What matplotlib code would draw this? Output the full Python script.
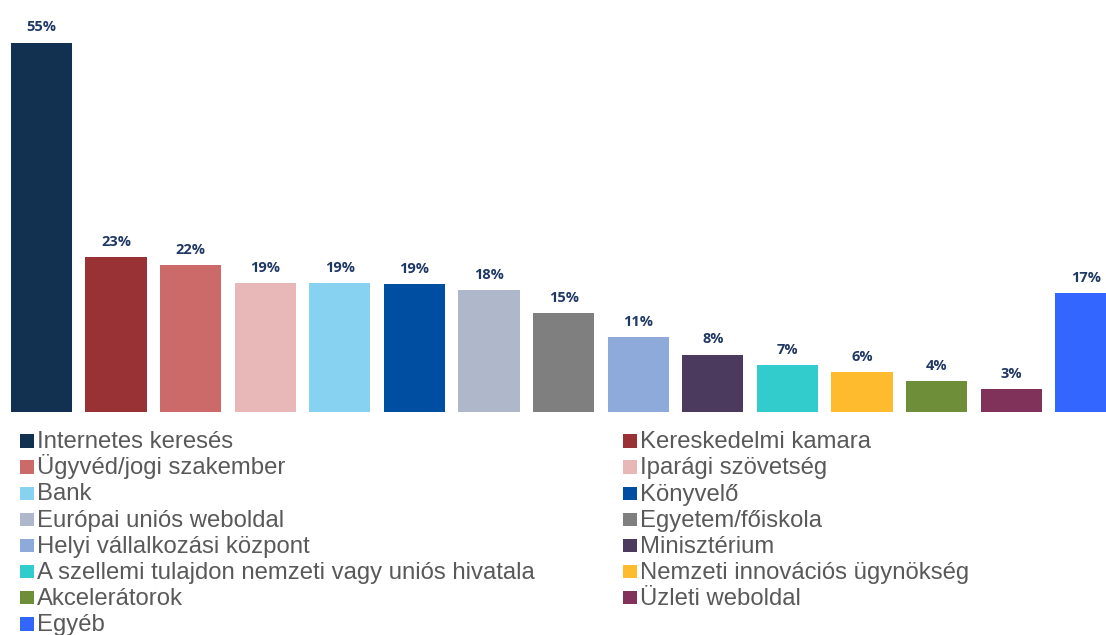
import matplotlib.pyplot as plt
from matplotlib.patches import Rectangle

# data
categories = [
    "Internetes keresés", "Kereskedelmi kamara", "Ügyvéd/jogi szakember",
    "Iparági szövetség", "Bank", "Könyvelő", "Európai uniós weboldal",
    "Egyetem/főiskola", "Helyi vállalkozási központ", "Minisztérium",
    "A szellemi tulajdon nemzeti vagy uniós hivatala",
    "Nemzeti innovációs ügynökség", "Akcelerátorok", "Üzleti weboldal", "Egyéb",
]
values = [55, 23.1, 21.9, 19.2, 19.2, 19.1, 18.2, 14.8, 11.2, 8.6, 7.0, 6.0, 4.6, 3.4, 17.7]
labels = ["55%", "23%", "22%", "19%", "19%", "19%", "18%", "15%", "11%",
          "8%", "7%", "6%", "4%", "3%", "17%"]
colors = ["#12304F", "#983234", "#CC6A6A", "#E8B8B8", "#87D2F0", "#004EA2",
          "#AEB8CA", "#7F7F7F", "#8EAADB", "#4B3A5E", "#33CCCC", "#FDBB2D",
          "#6E8E3A", "#80325A", "#3366FF"]

W, H = 1106, 635
fig = plt.figure(figsize=(W / 100, H / 100), dpi=100)
ax = fig.add_axes([0, 0.3507, 1, 0.635])

x = range(len(values))
bars = ax.bar(x, values, width=0.82, color=colors)
for b, lab in zip(bars, labels):
    ax.annotate(lab, (b.get_x() + b.get_width() / 2, b.get_height()),
                xytext=(0, 6), textcoords="offset points", ha="center", va="bottom",
                fontsize=10.5, fontweight="bold", color="#1F3864", family="Open Sans")

ax.set_xlim(-0.556, 14.27)
ax.set_ylim(0, 60)
ax.axis("off")

# legend laid out by hand: two columns, filled row by row, fixed row pitch
col_x = [20, 623]       # marker left edge, px
base0, pitch = 448.3, 26.1   # baseline of first row, row pitch, px
sq = 13.5
for i, (cat, c) in enumerate(zip(categories, colors)):
    row, col = divmod(i, 2)
    xb = col_x[col]
    yb = base0 + row * pitch
    fig.add_artist(Rectangle((xb / W, (H - yb + 0.5) / H), sq / W, sq / H,
                             transform=fig.transFigure, facecolor=c, edgecolor="none"))
    fig.text((xb + sq + 3.5) / W, (H - yb) / H, cat, ha="left", va="baseline",
             fontsize=17.2, family="Liberation Sans", color="#595959")

fig.savefig("out.png", dpi=100)
